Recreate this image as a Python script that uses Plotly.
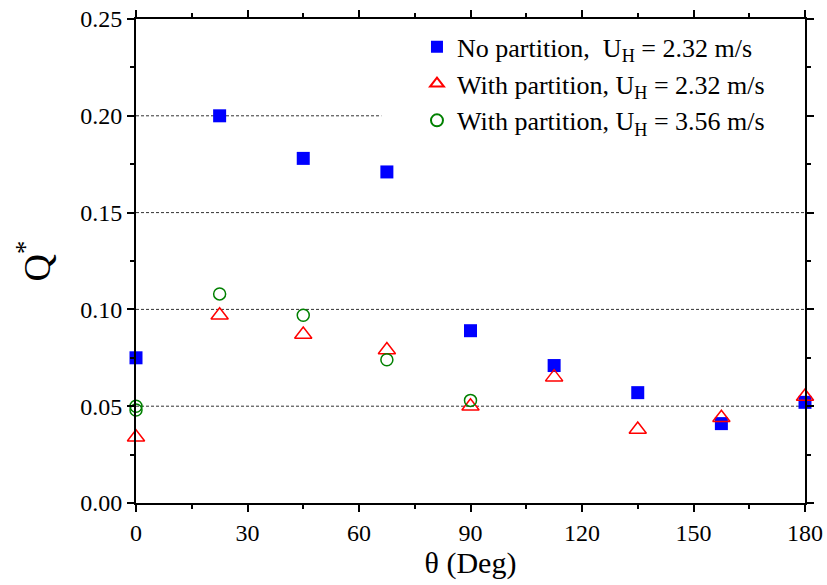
import plotly.graph_objects as go

theta_blue = [0, 22.5, 45, 67.5, 90, 112.5, 135, 157.5, 180]
q_blue = [0.075, 0.200, 0.178, 0.171, 0.089, 0.071, 0.057, 0.041, 0.052]

theta_red = [0, 22.5, 45, 67.5, 90, 112.5, 135, 157.5, 180]
q_red = [0.034, 0.097, 0.087, 0.079, 0.050, 0.065, 0.038, 0.044, 0.055]

theta_green = [0, 0, 22.5, 45, 67.5, 90]
q_green = [0.050, 0.048, 0.108, 0.097, 0.074, 0.053]

names = [
    "No partition,  U<sub>H</sub> = 2.32 m/s",
    "With partition, U<sub>H</sub> = 2.32 m/s",
    "With partition, U<sub>H</sub> = 3.56 m/s",
]

font = "Liberation Serif"
fig = go.Figure()
fig.add_trace(go.Scatter(x=theta_blue, y=q_blue, mode="markers", name=names[0],
                         marker=dict(symbol="square", size=13, color="#0000ff"),
                         cliponaxis=False))
fig.add_trace(go.Scatter(x=theta_red, y=q_red, mode="markers", name=names[1],
                         marker=dict(symbol="triangle-up-open", size=15, color="#ff0000",
                                     line=dict(width=1.5)),
                         cliponaxis=False))
fig.add_trace(go.Scatter(x=theta_green, y=q_green, mode="markers", name=names[2],
                         marker=dict(symbol="circle-open", size=12, color="#008000",
                                     line=dict(width=1.5)),
                         cliponaxis=False))

grid_y = [0.05, 0.10, 0.15]
for gy in grid_y:
    fig.add_shape(type="line", xref="x", yref="y", x0=0, x1=180, y0=gy, y1=gy,
                  line=dict(color="#333333", width=1, dash="3px,2px"), layer="below")
fig.add_shape(type="line", xref="x", yref="y", x0=0, x1=66, y0=0.20, y1=0.20,
              line=dict(color="#333333", width=1, dash="3px,2px"), layer="below")

fig.update_layout(
    width=827, height=585,
    margin=dict(l=136, r=22, t=19, b=82),
    paper_bgcolor="white", plot_bgcolor="white",
    font=dict(family=font, color="black", size=20),
    showlegend=True,
    legend=dict(x=0.42, y=0.991, xanchor="left", yanchor="top",
                font=dict(family=font, size=26), bgcolor="rgba(0,0,0,0)",
                tracegroupgap=0, itemsizing="constant"),
)
fig.update_xaxes(
    range=[0, 180], tickvals=[0, 30, 60, 90, 120, 150, 180], automargin=False,
    ticklabeloverflow="allow",
    showgrid=False, zeroline=False, showline=True, linecolor="black", linewidth=2,
    mirror="ticks", ticks="outside", ticklen=7, tickwidth=1.5, tickcolor="black",
    minor=dict(dtick=15, tick0=0, ticks="outside", ticklen=4, tickwidth=1.5, tickcolor="black"),
    tickfont=dict(family=font, size=24),
    title=dict(text="θ (Deg)", font=dict(family=font, size=30), standoff=4),
)
fig.update_yaxes(
    range=[0, 0.25], tickvals=[0, 0.05, 0.10, 0.15, 0.20, 0.25], tickformat=".2f", automargin=False,
    ticklabeloverflow="allow",
    showgrid=False, zeroline=False, showline=True, linecolor="black", linewidth=2,
    mirror="ticks", ticks="outside", ticklen=7, tickwidth=1.5, tickcolor="black",
    minor=dict(dtick=0.025, tick0=0, ticks="outside", ticklen=4, tickwidth=1.5, tickcolor="black"),
    tickfont=dict(family=font, size=24),
    title=dict(text="Q<sup>*</sup>", font=dict(family=font, size=38), standoff=18),
)

fig.write_html("out.html", config={"displayModeBar": False},
               post_script="document.body.style.margin='0';document.body.style.overflow='hidden';")
